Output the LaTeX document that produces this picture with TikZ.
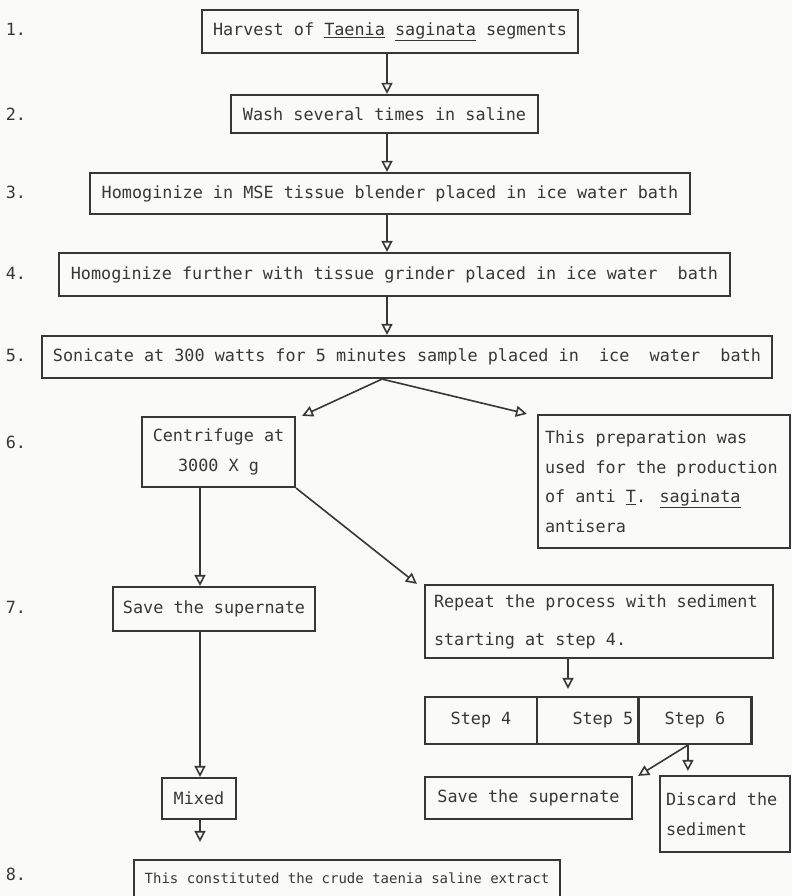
\documentclass[tikz,border=0pt]{standalone}
\usepackage{fontspec}
\newfontfamily\typefont{DejaVu Sans Mono}[WordSpace={1,0,0}]
\usetikzlibrary{positioning, arrows.meta}
\definecolor{paper}{RGB}{250,250,248}
\definecolor{ink}{RGB}{55,55,55}

\begin{document}
\begin{tikzpicture}[
  x=1pt, y=-1pt,
  every node/.style={font=\typefont\fontsize{16.8}{29.5}\selectfont, text=ink},
  stepbox/.style={rectangle, draw=ink, line width=2.2pt, inner sep=0pt},
  note/.style={stepbox, align=flush left, inner xsep=7pt},
  arrow/.style={-{Triangle[open, width=11pt, length=11pt]}, draw=ink, line width=1.6pt}
]
\useasboundingbox[fill=paper] (0,0) rectangle (792,896);

% Main column
\node[stepbox, minimum width=376, minimum height=43] (harvest) at (390,31.5) {Harvest of \underline{Taenia} \underline{saginata} segments};
\node[stepbox, minimum width=307, minimum height=38] (wash) at (384.5,114) {Wash several times in saline};
\node[stepbox, minimum width=600, minimum height=41] (blend) at (390,193.5) {Homoginize in MSE tissue blender placed in ice water bath};
\node[stepbox, minimum width=671, minimum height=43] (grind) at (394.5,274.5) {Homoginize further with tissue grinder placed in ice water~ bath};
\node[stepbox, minimum width=730, minimum height=42] (sonic) at (407,357) {Sonicate at 300 watts for 5 minutes sample placed in~ ice~ water~ bath};

% Split after sonication
\node[stepbox, align=flush center, minimum width=153, minimum height=70] (centri) at (218.5,452) {Centrifuge at\\3000 X g};
\node[note, text width=238, minimum height=133] (prep) at (664,481.5) {This preparation was\\used for the production\\of anti \underline{T}. \underline{saginata}\\antisera};

% Left branch
\node[stepbox, minimum width=202, minimum height=44] (save) at (214,609) {Save the supernate};
\node[stepbox, minimum width=74, minimum height=41] (mixed) at (199,798.5) {Mixed};
\node[stepbox, minimum width=426, minimum height=40, font=\typefont\fontsize{14}{20}\selectfont] (crude) at (347,880) {\raisebox{4pt}{This constituted the crude taenia saline extract}};

% Right branch
\node[note, text width=330, inner xsep=9pt, minimum height=73, font=\typefont\fontsize{16.8}{38}\selectfont] (repeat) at (599,621.5) {Repeat the process with sediment\\starting at step 4.};
\node[stepbox, minimum width=112, minimum height=47] (step4) at (481,720.5) {Step 4};
\node[stepbox, text width=91, inner xsep=5pt, align=flush right, minimum height=47, right=-2pt of step4] (step5) {Step 5};
\node[stepbox, minimum width=113, minimum height=47, right=-2pt of step5] (step6) {Step 6};
\node[stepbox, minimum width=207, minimum height=42] (save2) at (528.5,798) {Save the supernate};
\node[note, text width=118, inner xsep=6pt, minimum height=76] (discard) at (725,814) {Discard the\\sediment};

% Step numbers
\coordinate (numcol) at (16,0);
\foreach \n/\b in {1/harvest, 2/wash, 3/blend, 4/grind, 5/sonic, 7/save}
  \node[anchor=base] (num\n) at (numcol |- \b.base) {\n.};
\node (num6) at (16,442) {6.};
\node (num8) at (16,874) {8.};

% Connections
\coordinate (spine) at (387,0);
\coordinate (lspine) at (200,0);
\draw[arrow] (harvest.south -| spine) -- (wash.north -| spine);
\draw[arrow] (wash.south -| spine) -- (blend.north -| spine);
\draw[arrow] (blend.south -| spine) -- (grind.north -| spine);
\draw[arrow] (grind.south -| spine) -- (sonic.north -| spine);

\coordinate (split) at ([xshift=-5]sonic.south -| spine);
\draw[arrow] (split) -- ([xshift=6]centri.north east);
\draw[arrow] (split) -- ([xshift=-10]prep.north west);

\draw[arrow] (centri.south -| lspine) -- (save.north -| lspine);
\draw[arrow] (centri.south east) -- ([xshift=-7]repeat.north west);
\draw[arrow] (save.south -| lspine) -- (mixed.north -| lspine);
\draw[arrow] (mixed.south -| lspine) -- ([yshift=17]crude.north -| lspine);

\coordinate (fork) at ([xshift=-31]repeat.south);
\draw[arrow] (fork) -- ([yshift=7]fork |- step5.north);
\coordinate (sixout) at ([xshift=-7]step6.south);
\draw[arrow] (sixout) -- ([xshift=5]save2.north east);
\draw[arrow] (sixout) -- ([yshift=4]sixout |- discard.north);

\end{tikzpicture}
\end{document}
